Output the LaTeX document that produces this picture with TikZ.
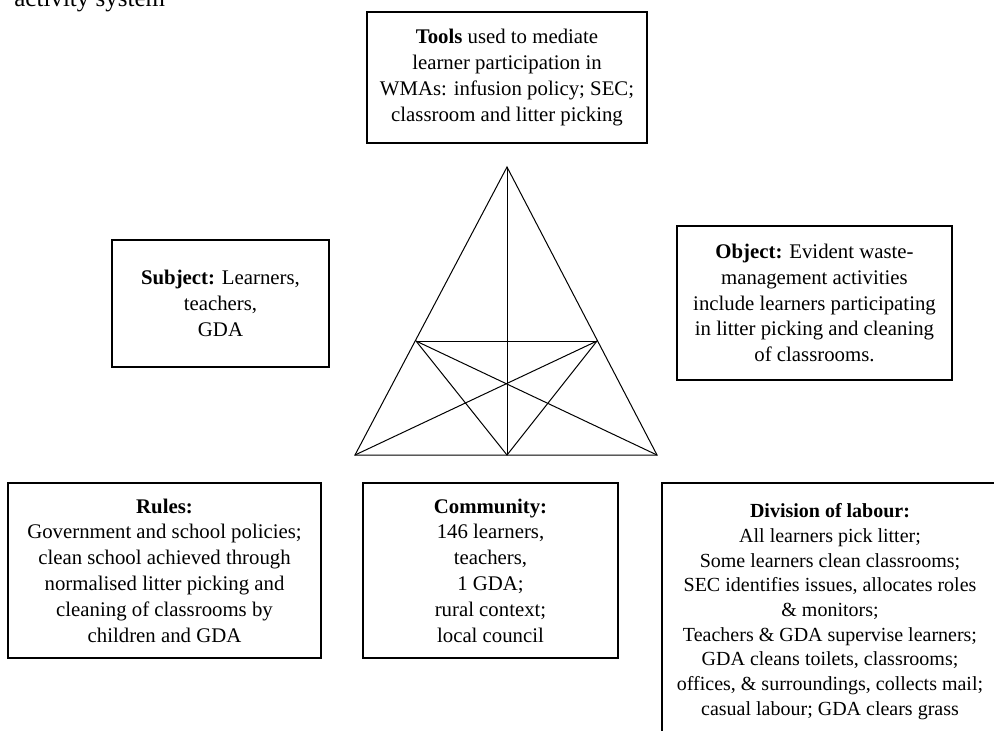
\documentclass[tikz,border=0pt]{standalone}
\usepackage{fontspec}
\setmainfont{Liberation Serif}
\usepackage{tikz}
\usetikzlibrary{positioning}

\tikzset{
  actbox/.style={draw, line width=0.6pt, align=center, inner sep=0pt,
    font=\fontsize{10.4}{12.9}\selectfont},
  edge/.style={line width=0.5pt},
}

\begin{document}
\begin{tikzpicture}[x=0.5pt, y=-0.5pt]
  \useasboundingbox (0,0) rectangle (994,730);
  % caption line cut off at the top of the figure
  \node[anchor=base west, inner sep=0pt, font=\fontsize{12.5}{14}\selectfont] (cap) at (14,6) {activity system};

  \node[actbox, minimum width=140pt, minimum height=65.5pt] (tools) at (507,77.5)
    {\textbf{Tools} used to mediate\\learner participation in\\WMAs: infusion policy; SEC;\\classroom and litter picking};
  \node[actbox, minimum width=108.5pt, minimum height=63.5pt] (subject) at (220.5,303.5)
    {\textbf{Subject:} Learners,\\teachers,\\GDA};
  \node[actbox, minimum width=137.5pt, minimum height=77pt] (object) at (814.5,303)
    {\textbf{Object:} Evident waste-\\management activities\\include learners participating\\in litter picking and cleaning\\of classrooms.};
  \node[actbox, minimum width=156.5pt, minimum height=87.5pt] (rules) at (164.5,570.5)
    {\textbf{Rules:}\\Government and school policies;\\clean school achieved through\\normalised litter picking and\\cleaning of classrooms by\\children and GDA};
  \node[actbox, minimum width=127.5pt, minimum height=87.5pt] (community) at (490.5,570.5)
    {\textbf{Community:}\\146 learners,\\teachers,\\1 GDA;\\rural context;\\local council};
  \node[actbox, font=\fontsize{10}{12.35}\selectfont, minimum width=168pt, minimum height=128.5pt] (labour) at (830,611.5)
    {\textbf{Division of labour:}\\All learners pick litter;\\Some learners clean classrooms;\\SEC identifies issues, allocates roles\\\& monitors;\\Teachers \& GDA supervise learners;\\GDA cleans toilets, classrooms;\\offices, \& surroundings, collects mail;\\casual labour; GDA clears grass};

  % triangle corners and inner points
  \coordinate (apex) at (507,167);
  \coordinate (bl) at (355,455);
  \coordinate (br) at (657,455);
  \coordinate (bm) at (507,455);
  \coordinate (ml) at (416,341);
  \coordinate (mr) at (597,341);

  \draw[edge] (apex) -- (bl) -- (br) -- cycle;
  \draw[edge] (apex) -- (bm);
  \draw[edge] (ml) -- (mr);
  \draw[edge] (ml) -- (bm) -- (mr);
  \draw[edge] (ml) -- (br);
  \draw[edge] (mr) -- (bl);
\end{tikzpicture}
\end{document}
